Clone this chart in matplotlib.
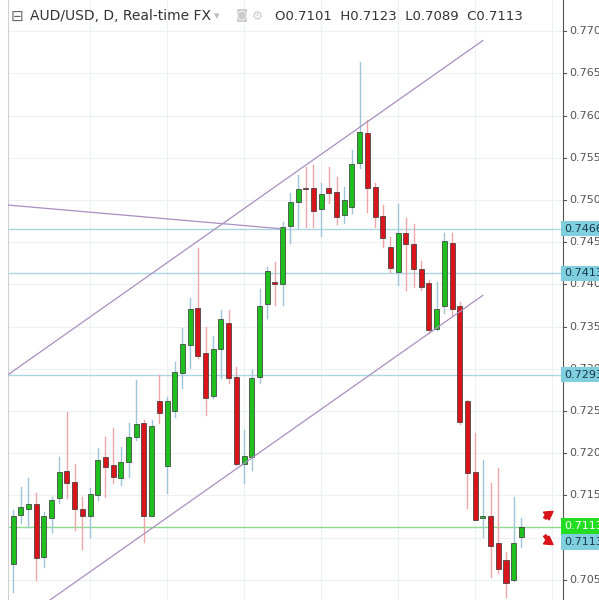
import matplotlib
matplotlib.use("Agg")
import matplotlib.pyplot as plt
import matplotlib.transforms as mtransforms
import numpy as np

opens  = [.7069,.7127,.7134,.7140,.7077,.7123,.7147,.7179,.7166,.7134,.7126,.7151,.7196,.7186,.7170,.7189,.7219,.7236,.7126,.7262,
          .7185,.7250,.7295,.7328,.7372,.7319,.7268,.7324,.7354,.7290,.7187,.7196,.7290,.7377,.7403,.7400,.7469,.7498,.7514,.7514,
          .7489,.7514,.7509,.7482,.7492,.7544,.7579,.7515,.7481,.7444,.7415,.7461,.7448,.7418,.7402,.7347,.7374,.7449,.7374,.7262,
          .7178,.7123,.7126,.7094,.7073,.7050,.7101]
highs  = [.7133,.7160,.7171,.7153,.7130,.7148,.7196,.7249,.7187,.7148,.7159,.7206,.7219,.7230,.7207,.7236,.7287,.7239,.7239,.7293,
          .7267,.7308,.7348,.7384,.7443,.7350,.7339,.7370,.7370,.7302,.7228,.7299,.7395,.7421,.7426,.7474,.7508,.7530,.7539,.7541,
          .7520,.7539,.7527,.7515,.7559,.7663,.7595,.7520,.7494,.7456,.7495,.7479,.7471,.7428,.7405,.7403,.7461,.7461,.7379,.7263,
          .7224,.7192,.7165,.7183,.7083,.7148,.7123]
lows   = [.7035,.7117,.7112,.7050,.7065,.7106,.7141,.7147,.7109,.7086,.7101,.7145,.7148,.7165,.7162,.7172,.7216,.7095,.7141,.7236,
          .7153,.7243,.7277,.7301,.7313,.7245,.7265,.7289,.7283,.7186,.7165,.7180,.7283,.7360,.7376,.7376,.7449,.7467,.7468,.7468,
          .7457,.7496,.7471,.7473,.7485,.7538,.7486,.7468,.7444,.7415,.7399,.7393,.7397,.7393,.7342,.7346,.7366,.7364,.7235,.7135,
          .7121,.7101,.7053,.7058,.7030,.7048,.7089]
closes = [.7126,.7136,.7140,.7076,.7125,.7145,.7178,.7165,.7134,.7125,.7152,.7192,.7184,.7172,.7190,.7219,.7234,.7125,.7232,.7248,
          .7262,.7296,.7329,.7371,.7315,.7265,.7324,.7359,.7289,.7187,.7197,.7289,.7374,.7416,.7400,.7468,.7498,.7513,.7513,.7487,
          .7507,.7508,.7480,.7500,.7543,.7580,.7514,.7480,.7455,.7419,.7461,.7448,.7418,.7397,.7346,.7371,.7451,.7371,.7237,.7177,
          .7121,.7126,.7090,.7063,.7046,.7094,.7113]

yticks = [0.7050 + 0.005 * k for k in range(14)]
hlines = [0.7466, 0.7413, 0.7293]
last_price = 0.7113
upper_ch = ([-0.65, 61.0], [0.7293, 0.7689])
lower_ch = ([4.8, 61.0], [0.7026, 0.7387])
purple_seg = ([-0.65, 34.7], [0.7494, 0.7466])

fig = plt.figure(figsize=(5.99, 6.0), dpi=100)
ax = fig.add_axes([8/599, 0, 555/599, 1])
ax.set_xlim(-0.65, 71.4)
ax.set_ylim(0.7026, 0.7737)

green, red = "#1fbf1f", "#d9141b"
for i, (o, h, l, c) in enumerate(zip(opens, highs, lows, closes)):
    col = green if c >= o else red
    wick = "#9fc3d8" if c >= o else "#f0a4a8"
    ax.plot([i, i], [l, h], color=wick, lw=1, zorder=2)
    lo, hi = min(o, c), max(o, c)
    ax.bar(i, max(hi - lo, 0.00012), bottom=lo, width=0.65, color=col,
           edgecolor="#333333", linewidth=0.5, zorder=3)

for v in yticks:
    ax.axhline(v, color="#eef1f4", lw=0.8, zorder=0)
for xv in range(10, 72, 10):
    ax.axvline(xv, color="#eef1f4", lw=0.8, zorder=0)

for v in hlines:
    ax.axhline(v, color="#a9d6e0", lw=1, zorder=1)
ax.axhline(last_price, color="#8fd98f", lw=1, zorder=1)
for xs, ys in (upper_ch, lower_ch, purple_seg):
    ax.plot(xs, ys, color="#a98fc0", lw=0.9, zorder=4)

# red arrows near last price
ax.plot([69.0, 69.35], [0.7122, 0.7127], color=red, lw=3, solid_capstyle="butt", zorder=6)
ax.plot([69.4], [0.71285], marker=(3, 0, -55), ms=8, color=red, zorder=6)
ax.plot([69.0, 69.35], [0.7103, 0.7098], color=red, lw=3, solid_capstyle="butt", zorder=6)
ax.plot([69.4], [0.70965], marker=(3, 0, -125), ms=8, color=red, zorder=6)

ax.set_xticks([]); ax.set_yticks([])
for s in ("top", "bottom"):
    ax.spines[s].set_visible(False)
ax.spines["right"].set_color("#555555")
ax.spines["left"].set_color("#d0d0d0")

tr = mtransforms.blended_transform_factory(ax.transAxes, ax.transData)
for v in yticks:
    ax.plot([1.0, 1.006], [v, v], transform=tr, color="#555555", lw=0.8, clip_on=False)
    ax.text(1.012, v, f"{v:.4f}", transform=tr, va="center", ha="left",
            fontsize=8, color="#555555", clip_on=False)
for v in hlines:
    ax.text(1.002, v, f"{v:.4f}", transform=tr, va="center", ha="left", fontsize=8,
            color="#1a3a4a", clip_on=False, zorder=10,
            bbox=dict(boxstyle="square,pad=0.25", fc="#7fcfdf", ec="none"))
ax.text(1.002, last_price + 0.00005, f"{last_price:.4f}", transform=tr, va="center", ha="left",
        fontsize=8, color="white", clip_on=False, zorder=10,
        bbox=dict(boxstyle="square,pad=0.25", fc="#22dd22", ec="none"))
ax.text(1.002, last_price - 0.0018, f"{last_price:.4f}", transform=tr, va="center", ha="left",
        fontsize=8, color="#1a3a4a", clip_on=False, zorder=10,
        bbox=dict(boxstyle="square,pad=0.25", fc="#7fcfdf", ec="none"))

fig.text(30/599, 1 - 16/600, "AUD/USD, D, Real-time FX", fontsize=10, color="#333333",
         va="center", ha="left")
fig.text(214/599, 1 - 16/600, "▾", fontsize=8, color="#bbbbbb", va="center")
fig.text(275/599, 1 - 16/600, "O0.7101  H0.7123  L0.7089  C0.7113", fontsize=9.5, color="#333333",
         va="center", ha="left")
fig.text(11/599, 1 - 16/600, "⊟", fontsize=11, color="#666666", va="center", ha="left")
fig.text(236/599, 1 - 16/600, "◙", fontsize=9, color="#cccccc", va="center")
fig.text(252/599, 1 - 16/600, "⚙", fontsize=9, color="#cccccc", va="center")

fig.savefig("out.png", dpi=100, facecolor="white")
